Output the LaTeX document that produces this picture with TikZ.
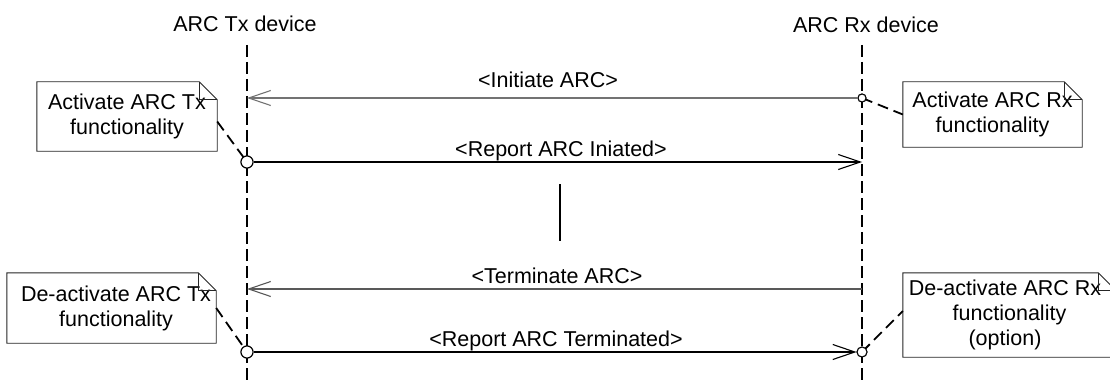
\documentclass[tikz,border=0pt]{standalone}
\usepackage{fontspec}
\setmainfont{Liberation Sans}
\usetikzlibrary{arrows.meta}
\tikzset{
  txt/.style={font=\fontsize{21.5}{25}\selectfont, inner sep=0pt, anchor=base},
  notebox/.style={draw=none, inner sep=0pt, align=center, font=\fontsize{21.5}{25}\selectfont},
  notebd/.style={draw=black!85, line width=0.9pt},
  lifeline/.style={line width=1.8pt, dash pattern=on 12pt off 5pt},
  notelink/.style={line width=1.8pt, dash pattern=on 11pt off 6pt},
  msg/.style={line width=1.1pt, -{Straight Barb[length=22pt,width=15pt,line width=1.1pt]}},
  circ/.style={circle, draw, line width=1pt, inner sep=0pt, fill=white},
}
\newcommand{\notefold}[1]{%
  \draw[notebd] (#1.north west) -- ([xshift=-18pt]#1.north east) -- ([yshift=-18pt]#1.north east) -- (#1.south east) -- (#1.south west) -- cycle;
  \draw[notebd] ([xshift=-18pt]#1.north east) |- ([yshift=-18pt]#1.north east);}
\begin{document}
\begin{tikzpicture}[x=1pt,y=-1pt]
\useasboundingbox (0,0) rectangle (1110,385);
\clip (0,0) rectangle (1110,385);
\fill[white] (0,0) rectangle (1110,385);
% titles
\node[txt] (ttx) at (245,32) {ARC Tx device};
\node[txt] (trx) at (866,33) {ARC Rx device};
% lifelines
\coordinate (txtop) at (247,45);
\coordinate (txbot) at (247,390);
\coordinate (rxtop) at (862,45);
\coordinate (rxbot) at (862,390);
\draw[lifeline] (txtop) -- (txbot);
\draw[lifeline] (rxtop) -- (rxbot);
% notes
\node[notebox, minimum width=180pt, minimum height=69pt] (n1) at (127,116.5) {Activate ARC Tx\\functionality};
\node[notebox, minimum width=179pt, minimum height=65pt] (n2) at (992.5,114.5) {Activate ARC Rx\\functionality};
\node[notebox, minimum width=209pt, minimum height=70pt] (n3) at (111.5,308) {\hspace*{9pt}De-activate ARC Tx\\\hspace*{9pt}functionality};
\node[notebox, minimum width=213pt, minimum height=84pt] (n4) at (1009.5,315) {De-activate ARC Rx\hspace*{9pt}\\functionality\hspace*{9pt}\\(option)\hspace*{9pt}};
\notefold{n1}
\notefold{n2}
\notefold{n3}
\notefold{n4}
% end points
\coordinate (a1end) at (247,98);
\coordinate (a2end) at (862,162);
\coordinate (a3start) at (862,289);
\coordinate (a3end) at (247,289);
% note links
\node[circ, minimum size=8pt] (c0) at (862,98) {};
\node[circ, minimum size=12pt] (c1) at (247,162) {};
\node[circ, minimum size=12pt] (c2) at (247,352) {};
\node[circ, minimum size=10pt] (c3) at (862,352) {};
\draw[notelink] ([yshift=-5pt]n1.east) -- (c1.center);
\draw[notelink] (c0.center) -- (n2.west);
\draw[notelink] (n3.east) -- (c2.center);
\draw[notelink] (c3.center) -- ([yshift=4pt]n4.west);
\node[circ, minimum size=8pt] at (c0) {};
\node[circ, minimum size=12pt] at (c1) {};
\node[circ, minimum size=12pt] at (c2) {};
\node[circ, minimum size=10pt] at (c3) {};
% messages
\draw[msg, draw=black!55] (c0) -- (a1end);
\draw[msg] (c1) -- (a2end);
\draw[msg, draw=black!65] (a3start) -- (a3end);
\draw[msg] (c2) -- (c3);
% labels
\node[txt] (l1) at (548,88) {<Initiate ARC>};
\node[txt] (l2) at (561,157) {<Report ARC Iniated>};
\node[txt] (l3) at (557,283) {<Terminate ARC>};
\node[txt] (l4) at (556,346) {<Report ARC Terminated>};
% continuation
\coordinate (vtop) at (560,184);
\coordinate (vbot) at (560,241);
\draw[line width=1.2pt] (vtop) -- (vbot);
\end{tikzpicture}
\end{document}
